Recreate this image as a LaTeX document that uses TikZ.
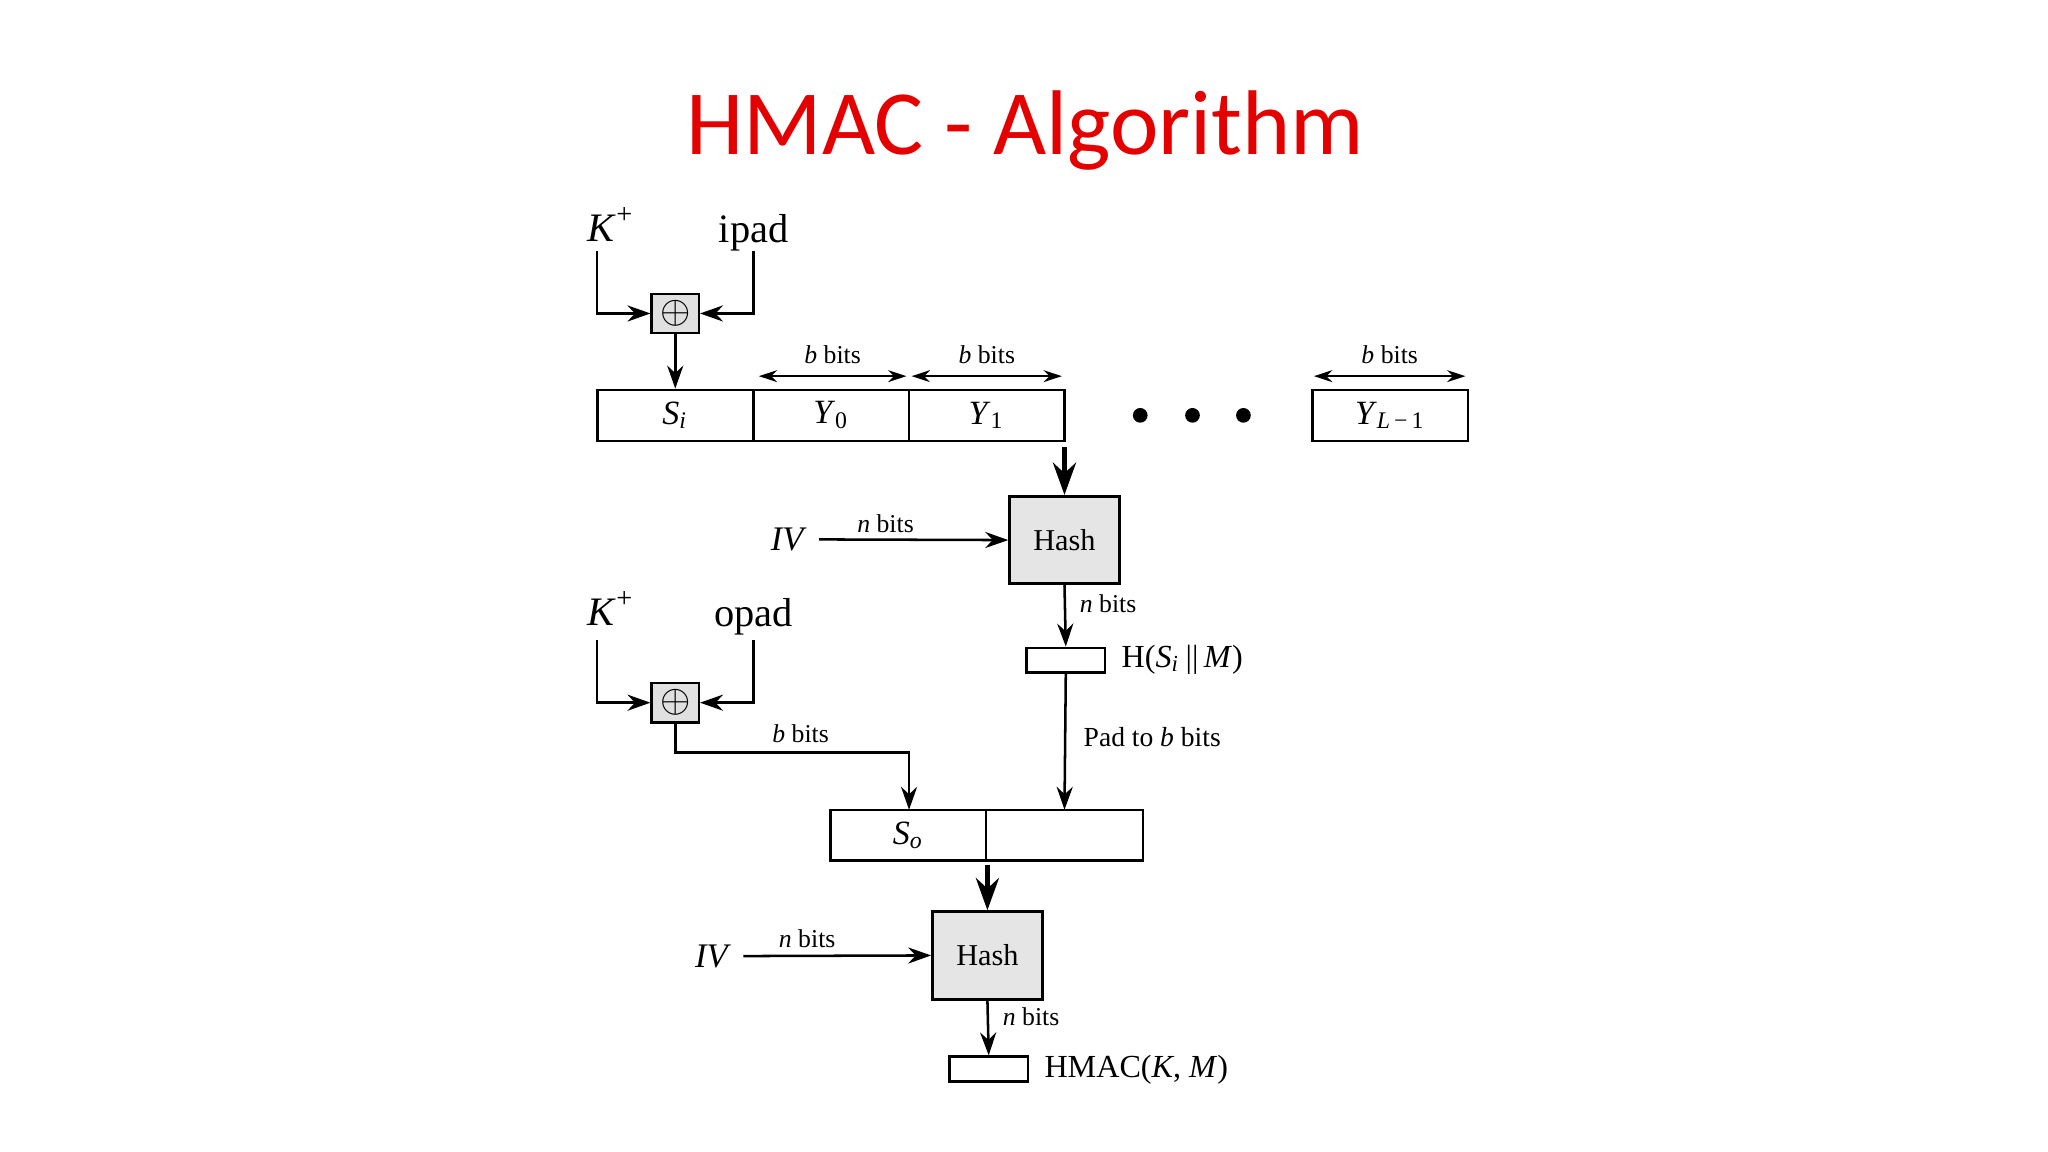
\documentclass[tikz,border=0pt]{standalone}
\usepackage{fontspec}
\setmainfont{Liberation Serif}
\newfontfamily\titlefont{Carlito}
\usetikzlibrary{arrows.meta}
\newcommand{\ti}[1]{\textit{#1}}
\begin{document}
\begin{tikzpicture}[x=0.01cm,y=-0.01cm,
  ln/.style={line width=0.55pt},
  ar/.style={ln,-{Stealth[length=5pt,width=3.5pt]}},
  tar/.style={line width=1.1pt,-{Stealth[length=7pt,width=5pt]}},
  dar/.style={line width=0.45pt,{Stealth[length=4pt,width=2.6pt]}-{Stealth[length=4pt,width=2.6pt]}},
  cell/.style={draw,line width=0.55pt,minimum width=1.19cm,minimum height=0.39cm,inner sep=0,font=\fontsize{7.4}{8}\selectfont},
  hash/.style={draw,line width=0.6pt,fill=black!10,minimum width=0.84cm,minimum height=0.67cm,inner sep=0,font=\fontsize{6.6}{8}\selectfont},
  xo/.style={draw,line width=0.55pt,fill=black!12,minimum width=0.36cm,minimum height=0.30cm,inner sep=0,font=\fontsize{8}{9}\selectfont},
  small/.style={draw,line width=0.55pt,minimum width=0.6cm,minimum height=0.19cm,inner sep=0},
  big/.style={font=\fontsize{8.8}{10}\selectfont,inner sep=0},
  lab/.style={font=\fontsize{5.6}{7}\selectfont,inner sep=0},
  mid/.style={font=\fontsize{7}{8}\selectfont,inner sep=0,anchor=west}]
\useasboundingbox (0,0) rectangle (1568,882);
\node[text=red!90!black,font=\titlefont\fontsize{20}{24}\selectfont] (title) at (785,100) {HMAC - Algorithm};
% top
\node[big] (k1) at (468,172) {\ti{K}\textsuperscript{+}};
\node[big] (ip) at (577,178) {ipad};
\node[xo] (x1) at (517,240) {$\oplus$};
\node[cell] (si) at (517,318) {\ti{S}\textsubscript{\ti{i}}};
\node[cell] (y0) at (636.5,318) {\ti{Y}\textsubscript{0}};
\node[cell] (y1) at (755.5,318) {\ti{Y}\textsubscript{1}};
\node[cell] (yl) at (1064.5,318) {\ti{Y}\textsubscript{\ti{L}\,\textminus\,1}};
\foreach \xx in {873,913,952} \fill (\xx,318) circle (1.6pt);
\draw[ar] (457,192) |- (x1.west);
\draw[ar] (577,192) |- (x1.east);
\draw[ar] (x1.south) -- (si.north);
\coordinate (a1) at (581,288); \coordinate (a2) at (694,288);
\coordinate (a3) at (698,288); \coordinate (a4) at (813,288);
\coordinate (a5) at (1006,288); \coordinate (a6) at (1122,288);
\draw[dar] (a1) -- node[lab,above=2.5pt] {\ti{b} bits} (a2);
\draw[dar] (a3) -- node[lab,above=2.5pt] {\ti{b} bits} (a4);
\draw[dar] (a5) -- node[lab,above=2.5pt] {\ti{b} bits} (a6);
\node[hash] (h1) at (815,413.5) {Hash};
\coordinate (t1) at (815,342);
\draw[tar] (t1) -- (h1.north);
\node[big,font=\fontsize{7.5}{9}\selectfont] (iv1) at (604,413) {\ti{IV}};
\draw[ar] (iv1.east) ++(2.5pt,0) -- (h1.west);
\node[lab] at (678,401) {\ti{n} bits};
\node[small] (hs) at (816,505.5) {};
\draw[ar] (h1.south) -- node[lab,right=3pt,pos=0.3] {\ti{n} bits} (hs.north);
\node[mid] (hsl) at (858,505) {H(\ti{S}\textsubscript{\ti{i}}\,||\,\ti{M})};
% opad
\node[big] (k2) at (468,466) {\ti{K}\textsuperscript{+}};
\node[big] (op) at (577,472) {opad};
\node[xo] (x2) at (517,538) {$\oplus$};
\draw[ar] (457,490) |- (x2.west);
\draw[ar] (577,490) |- (x2.east);
\node[cell] (so) at (695.5,639.5) {\ti{S}\textsubscript{\ti{o}}};
\node[cell,minimum width=1.2cm] (bl) at (815,639.5) {};
\draw[ar] (x2.south) |- (696,576) -- (696,620);
\node[lab] at (613,562) {\ti{b} bits};
\draw[ar] (hs.south) -- (815,620);
\node[lab,font=\fontsize{6}{7}\selectfont,anchor=west] at (829,564) {Pad to \ti{b} bits};
\node[hash] (h2) at (756,731.5) {Hash};
\draw[tar] (756,662) -- (h2.north);
\node[big,font=\fontsize{7.5}{9}\selectfont] (iv2) at (546,732) {\ti{IV}};
\draw[ar] (iv2.east) ++(2.5pt,0) -- (h2.west);
\node[lab] at (618,719) {\ti{n} bits};
\node[small] (hm) at (757,818.5) {};
\draw[ar] (h2.south) -- node[lab,right=3pt,pos=0.3] {\ti{n} bits} (hm.north);
\node[mid] (hml) at (799,819) {HMAC(\ti{K}, \ti{M})};
\end{tikzpicture}
\end{document}
